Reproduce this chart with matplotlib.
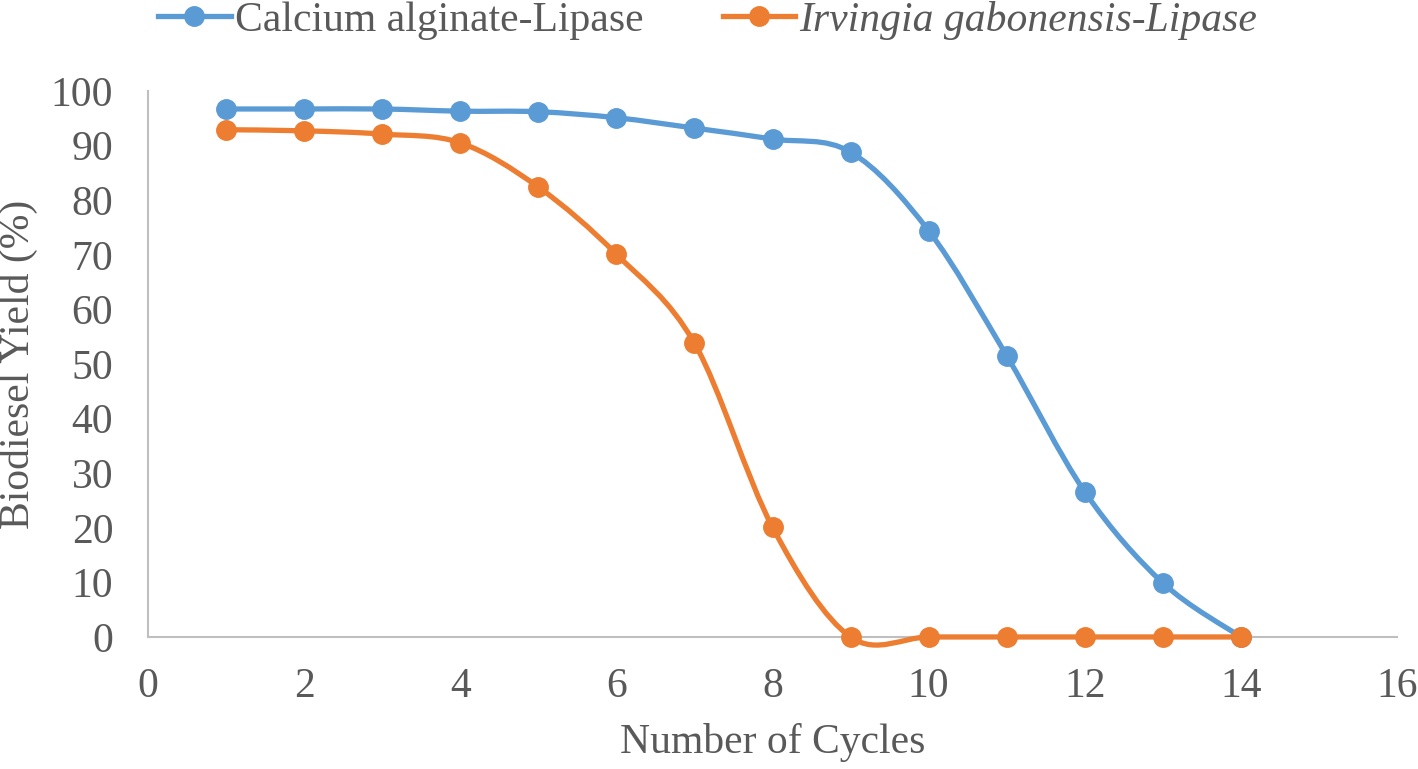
import numpy as np
import matplotlib.pyplot as plt
from matplotlib.path import Path
from matplotlib.patches import PathPatch
from matplotlib.lines import Line2D

cycles = [1, 2, 3, 4, 5, 6, 7, 8, 9, 10, 11, 12, 13, 14]
calcium_yield = [96.7, 96.7, 96.7, 96.3, 96.2, 95.1, 93.2, 91.2, 88.8, 74.4, 51.5, 26.6, 9.9, 0.0]
irvingia_yield = [92.9, 92.7, 92.1, 90.5, 82.4, 70.1, 53.8, 20.1, 0.0, 0.0, 0.0, 0.0, 0.0, 0.0]

blue = "#5B9BD5"
orange = "#ED7D31"
text_color = "#595959"

plt.rcParams["font.family"] = ["Liberation Serif", "DejaVu Serif"]


def smooth_path(x, y):
    # Excel-style smoothed line: cubic Bezier with Catmull-Rom control points
    pts = np.column_stack([x, y]).astype(float)
    n = len(pts)
    verts = [pts[0]]
    codes = [Path.MOVETO]
    for i in range(n - 1):
        p0 = pts[i - 1] if i > 0 else pts[i]
        p1 = pts[i]
        p2 = pts[i + 1]
        p3 = pts[i + 2] if i + 2 < n else pts[i + 1]
        c1 = p1 + (p2 - p0) / 6.0
        c2 = p2 - (p3 - p1) / 6.0
        verts += [c1, c2, p2]
        codes += [Path.CURVE4] * 3
    return Path(verts, codes)


fig = plt.figure(figsize=(14.18, 7.69), dpi=100)
ax = fig.add_axes([0.1044, 0.1717, 0.8808, 0.71])

for ys, col in [(calcium_yield, blue), (irvingia_yield, orange)]:
    ax.add_patch(PathPatch(smooth_path(cycles, ys), facecolor="none",
                           edgecolor=col, lw=3.8, capstyle="round",
                           zorder=3, clip_on=False))
    ax.plot(cycles, ys, linestyle="none", marker="o", markersize=14,
            color=col, zorder=4, clip_on=False)

ax.set_xlim(0, 16)
ax.set_ylim(0, 100)
ax.set_xticks(range(0, 17, 2))
ax.set_yticks(range(0, 101, 10))

for side in ["top", "right"]:
    ax.spines[side].set_visible(False)
for side in ["left", "bottom"]:
    ax.spines[side].set_color("#BFBFBF")
    ax.spines[side].set_linewidth(1.5)
ax.tick_params(length=0, labelsize=30, colors=text_color)
ax.tick_params(axis="x", pad=22)
ax.tick_params(axis="y", pad=25)

ax.set_xlabel("Number of Cycles", fontsize=30, color=text_color, labelpad=12)
ax.set_ylabel("Biodiesel Yield (%)", fontsize=30, color=text_color, labelpad=9)

handles = [
    Line2D([], [], color=blue, lw=3.8, marker="o", markersize=14),
    Line2D([], [], color=orange, lw=3.8, marker="o", markersize=14),
]
leg = fig.legend(handles, ["Calcium alginate-Lipase", "Irvingia gabonensis-Lipase"],
                 loc="upper center", bbox_to_anchor=(0.499, 1.048), ncol=2,
                 frameon=False, fontsize=30, handlelength=1.75,
                 columnspacing=1.9, handletextpad=0.1)
for t in leg.get_texts():
    t.set_color(text_color)
leg.get_texts()[1].set_style("italic")

fig.savefig("out.png", dpi=100)
